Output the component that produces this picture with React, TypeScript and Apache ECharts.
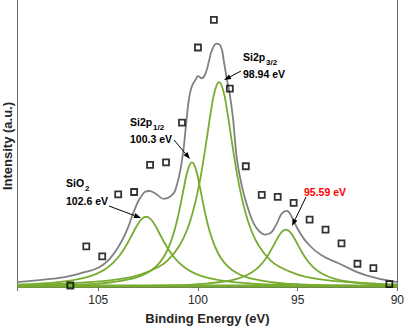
import React, { useEffect, useRef } from "react";
import * as echarts from "echarts";

// ---- Data (binding energy in eV, intensity in a.u.) ----
const scatterX = [106.4, 105.6, 104.8, 104.0, 103.2, 102.4, 101.6, 100.8, 100.0, 99.2, 98.4, 97.6, 96.8, 96.0, 95.2, 94.4, 93.6, 92.8, 92.0, 91.2, 90.4];
const scatterY = [1.5, 41, 31, 93.5, 96, 123.5, 126, 166, 242, 270, 200.5, 122, 93, 91, 85, 68, 58, 44, 23.5, 19, 3];

const envX = [109.05, 107.95, 106.7, 105.7, 104.95, 104.45, 103.95, 103.55, 103.2, 102.8, 102.45, 102.1, 101.7, 101.35, 101.1, 100.8, 100.6, 100.45, 100.3, 100.1, 100.0, 99.8, 99.6, 99.45, 99.3, 99.05, 98.85, 98.7, 98.55, 98.4, 98.25, 98.15, 98.05, 97.9, 97.7, 97.45, 97.2, 96.95, 96.65, 96.4, 96.1, 95.8, 95.55, 95.3, 94.95, 94.45, 93.8, 92.95, 91.6, 90];
const envY = [5, 7, 10, 15, 20, 28, 42, 58, 77, 93, 97, 94, 89, 92, 100, 128, 163, 190, 203, 210, 213, 211, 217, 228, 239, 246, 243, 228, 210, 194, 172, 150, 130, 112, 94, 77, 64, 57, 53, 54, 62, 74, 77, 71, 57, 43, 32, 24, 12, 5];

const sio2X = [109.05, 107.6, 106.6, 105.6, 105.1, 104.6, 104.2, 103.9, 103.6, 103.4, 103.2, 103.0, 102.8, 102.6, 102.4, 102.2, 102.0, 101.8, 101.6, 101.3, 101.0, 100.6, 100.1, 99.6, 98.6, 97.6, 96.6, 94.6, 92.6, 90];
const sio2Y = [2.3, 3.9, 5.9, 9.8, 13.3, 18.8, 25.6, 32.7, 41.9, 49.2, 56.8, 63.9, 69.1, 71, 69.1, 63.9, 56.8, 49.2, 41.9, 32.7, 25.6, 18.8, 13.3, 9.8, 5.9, 3.9, 2.7, 1.6, 1.0, 0.6];

const si12X = [109.05, 107.3, 106.3, 105.3, 104.3, 103.3, 102.8, 102.3, 101.9, 101.6, 101.3, 101.1, 100.9, 100.7, 100.5, 100.3, 100.1, 99.9, 99.7, 99.5, 99.3, 99.0, 98.7, 98.3, 97.8, 97.3, 96.3, 95.3, 94.3, 92.3, 90];
const si12Y = [1.1, 1.6, 2.2, 3.1, 4.8, 8.4, 11.7, 17.4, 25.2, 34.6, 49.2, 63, 80.6, 100.8, 118.6, 126, 118.6, 100.8, 80.6, 63, 49.2, 34.6, 25.2, 17.4, 11.7, 8.4, 4.8, 3.1, 2.2, 1.25, 0.75];

const si32X = [109.05, 106.94, 104.94, 103.94, 102.94, 101.94, 101.44, 100.94, 100.54, 100.24, 99.94, 99.74, 99.54, 99.34, 99.14, 98.94, 98.74, 98.54, 98.34, 98.14, 97.94, 97.64, 97.34, 96.94, 96.44, 95.94, 94.94, 93.94, 92.94, 90.94, 90];
const si32Y = [2.0, 3.2, 5.6, 8.0, 12.2, 20.7, 28.6, 41.4, 58.1, 77, 103.5, 126.2, 152.2, 178.4, 199, 207, 199, 178.4, 152.2, 126.2, 103.5, 77, 58.1, 41.4, 28.6, 20.7, 12.2, 8.0, 5.6, 3.2, 2.6];

const p95X = [109.05, 103.59, 101.59, 100.59, 99.59, 98.59, 98.09, 97.59, 97.19, 96.89, 96.59, 96.39, 96.19, 95.99, 95.79, 95.59, 95.39, 95.19, 94.99, 94.79, 94.59, 94.29, 93.99, 93.59, 93.09, 92.59, 91.59, 90.59, 90];
const p95Y = [0.3, 0.9, 1.6, 2.2, 3.4, 5.8, 8.0, 11.6, 16.3, 21.6, 29, 35.4, 42.6, 50, 55.8, 58, 55.8, 50, 42.6, 35.4, 29, 21.6, 16.3, 11.6, 8.0, 5.8, 3.4, 2.2, 1.8];

const baseX = [109.05, 90];
const baseY = [1, 1];

const GREEN = "#77AC30";
const GRAY = "#808080";
const FONT = '"Liberation Sans", Arial, Helvetica, sans-serif';

const pairs = (xs: number[], ys: number[]) => xs.map((x, i) => [x, ys[i]]);

function arrow(x1: number, y1: number, x2: number, y2: number) {
  const dx = x2 - x1, dy = y2 - y1;
  const len = Math.hypot(dx, dy);
  const ux = dx / len, uy = dy / len;
  const bx = x2 - ux * 7, by = y2 - uy * 7;
  const px = -uy * 2.6, py = ux * 2.6;
  return [
    { type: "line", z: 100, shape: { x1, y1, x2: bx, y2: by }, style: { stroke: "#000", lineWidth: 1 } },
    { type: "polygon", z: 100, shape: { points: [[x2, y2], [bx + px, by + py], [bx - px, by - py]] }, style: { fill: "#000" } },
  ];
}

function label(text: string, x: number, y: number, size = 10.5, color = "#000") {
  return {
    type: "text",
    z: 100,
    x,
    y,
    style: {
      text,
      fill: color,
      font: `bold ${size}px ${FONT}`,
      textAlign: "left",
      textVerticalAlign: "middle",
      align: "left",
      verticalAlign: "middle",
    },
  };
}

const lineSeries = (xs: number[], ys: number[], color: string, width: number) => ({
  type: "line",
  data: pairs(xs, ys),
  smooth: true,
  symbol: "none",
  showSymbol: false,
  lineStyle: { color, width },
  emphasis: { disabled: true },
});

export default function App() {
  const ref = useRef<HTMLDivElement>(null);
  useEffect(() => {
    document.body.style.margin = "0";
    if (!ref.current) return;
    const chart = echarts.init(ref.current, undefined, { renderer: "svg" });
    const axisColor = "#666666";
    const xCommon = {
      type: "value",
      min: 90,
      max: 109.05,
      interval: 5,
      inverse: true,
      splitLine: { show: false },
      axisLine: { show: true, lineStyle: { color: axisColor, width: 1 } },
      axisTick: { show: true, inside: true, length: 4, lineStyle: { color: axisColor } },
    };
    const yCommon = {
      type: "value",
      min: 0,
      max: 289.5,
      splitLine: { show: false },
      axisLine: { show: true, lineStyle: { color: axisColor, width: 1 } },
      axisTick: { show: false },
      axisLabel: { show: false },
    };
    chart.setOption({
      animation: false,
      textStyle: { fontFamily: FONT },
      grid: { left: 17.5, right: 8, top: 0.5, bottom: 40, containLabel: false },
      xAxis: [
        {
          ...xCommon,
          position: "bottom",
          axisLabel: {
            color: "#262626",
            fontSize: 12,
            margin: 7,
            formatter: (v: number) => (Math.abs(v % 5) < 1e-9 ? String(v) : ""),
          },
          name: "Binding Energy (eV)",
          nameLocation: "middle",
          nameGap: 25,
          nameTextStyle: { fontWeight: "bold", fontSize: 13, color: "#262626", fontFamily: FONT },
        },
        { ...xCommon, position: "top", axisLabel: { show: false } },
      ],
      yAxis: [
        { ...yCommon, position: "left" },
        { ...yCommon, position: "right" },
      ],
      series: [
        lineSeries(baseX, baseY, GREEN, 3),
        lineSeries(sio2X, sio2Y, GREEN, 1.8),
        lineSeries(si12X, si12Y, GREEN, 1.8),
        lineSeries(si32X, si32Y, GREEN, 1.8),
        lineSeries(p95X, p95Y, GREEN, 1.8),
        lineSeries(envX, envY, GRAY, 1.8),
        {
          type: "scatter",
          data: pairs(scatterX, scatterY),
          symbol: "rect",
          symbolSize: 6,
          itemStyle: { color: "rgba(0,0,0,0)", borderColor: "#000", borderWidth: 1.8 },
          emphasis: { disabled: true },
          z: 5,
        },
      ],
      graphic: [
        {
          type: "text",
          z: 100,
          x: 7.5,
          y: 146,
          rotation: Math.PI / 2,
          style: {
            text: "Intensity (a.u.)",
            fill: "#262626",
            font: `bold 13px ${FONT}`,
            textAlign: "center",
            textVerticalAlign: "middle",
            align: "center",
            verticalAlign: "middle",
          },
        },
        label("SiO", 66, 183),
        label("2", 85, 188, 8),
        label("102.6 eV", 66, 201),
        ...arrow(109, 206, 141, 218),
        label("Si2p", 130, 122),
        label("1/2", 153, 127, 8),
        label("100.3 eV", 130, 139),
        ...arrow(174, 140, 190, 159),
        label("Si2p", 243, 57),
        label("3/2", 266, 62, 8),
        label("98.94 eV", 243, 74),
        ...arrow(241, 71, 224, 80),
        label("95.59 eV", 304, 192, 10.5, "#ff0000"),
        ...arrow(306, 197, 292, 226),
      ],
    });
    return () => chart.dispose();
  }, []);
  return <div ref={ref} style={{ width: 407, height: 330 }} />;
}
